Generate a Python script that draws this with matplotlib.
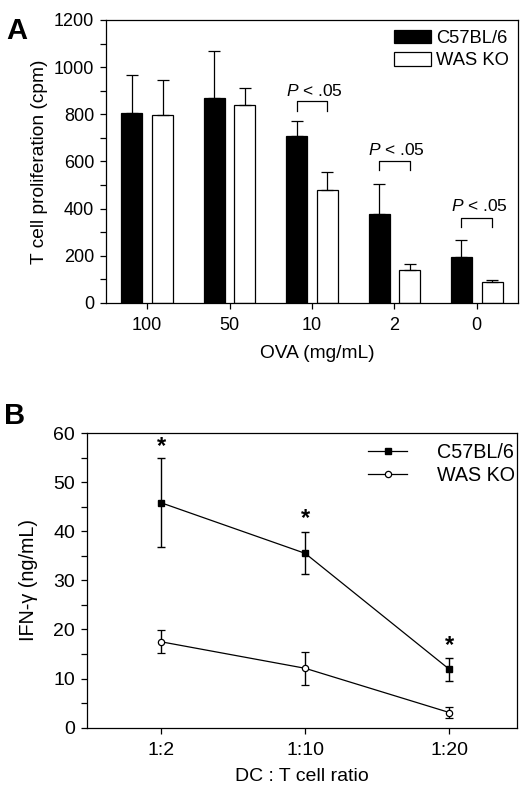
import matplotlib
matplotlib.use("Agg")
import matplotlib.pyplot as plt
import numpy as np
from matplotlib.lines import Line2D
from matplotlib.ticker import MultipleLocator

plt.rcParams["font.family"] = ["Liberation Sans", "DejaVu Sans"]
plt.rcParams["mathtext.fontset"] = "custom"
plt.rcParams["mathtext.rm"] = "Liberation Sans"
plt.rcParams["mathtext.it"] = "Liberation Sans:italic"

# ── panel A: T cell proliferation ─────────────────────────────────────────
ova_labels = ["100", "50", "10", "2", "0"]
c57_prolif = [807, 868, 707, 376, 193]
c57_prolif_err = [159, 202, 64, 127, 74]
ko_prolif = [798, 839, 479, 139, 91]
ko_prolif_err = [147, 73, 75, 26, 6]

sig_groups = [2, 3, 4]
sig_bracket_y = [857, 604, 359]
sig_leg_y = [814, 565, 321]
sig_text_y = [878, 629, 388]

# ── panel B: IFN-gamma ────────────────────────────────────────────────────
ratio_labels = ["1:2", "1:10", "1:20"]
c57_ifn = [45.8, 35.5, 11.9]
c57_ifn_err = [9.1, 4.3, 2.3]
ko_ifn = [17.5, 12.1, 3.1]
ko_ifn_err = [2.3, 3.3, 1.1]
star_y = [57.3, 42.6, 16.7]

fig = plt.figure(figsize=(5.2, 7.87), dpi=100)


def style_axes(ax, fs):
    for sp in ax.spines.values():
        sp.set_linewidth(0.9)
    ax.tick_params(which="both", direction="out", length=4.5, width=0.9,
                   labelsize=fs, pad=4)


# panel A
ax1 = fig.add_axes([0.2038, 0.615, 0.7923, 0.3596])
x = np.arange(len(ova_labels))
off, w = 0.186, 0.254
ax1.bar(x - off, c57_prolif, w, color="black", edgecolor="black",
        linewidth=0.9, label="C57BL/6", zorder=2)
ax1.bar(x + off, ko_prolif, w, color="white", edgecolor="black",
        linewidth=0.9, label="WAS KO", zorder=2)
ax1.errorbar(x - off, c57_prolif, yerr=[np.zeros(len(x)), c57_prolif_err],
             fmt="none", ecolor="black", elinewidth=0.9, capsize=4,
             capthick=0.9, zorder=3)
ax1.errorbar(x + off, ko_prolif, yerr=[np.zeros(len(x)), ko_prolif_err],
             fmt="none", ecolor="black", elinewidth=0.9, capsize=4,
             capthick=0.9, zorder=3)

for g, yb, yl, yt in zip(sig_groups, sig_bracket_y, sig_leg_y, sig_text_y):
    ax1.plot([g - off, g - off, g + off, g + off], [yl, yb, yb, yl],
             color="black", lw=0.9)
    ax1.text(g + 0.03, yt, r"$\mathit{P}$ < .05", ha="center",
             va="baseline", fontsize=12.5)

ax1.set_xlim(-0.5, 4.5)
ax1.set_ylim(0, 1200)
ax1.set_xticks(x)
ax1.set_xticklabels(ova_labels)
ax1.yaxis.set_major_locator(MultipleLocator(200))
ax1.yaxis.set_minor_locator(MultipleLocator(100))
style_axes(ax1, 13)
ax1.tick_params(axis="x", pad=5.5)
ax1.set_ylabel("T cell proliferation (cpm)", fontsize=13.8)
ax1.yaxis.set_label_coords(-0.141, 0.5)
ax1.set_xlabel("OVA (mg/mL)", fontsize=13.8)
ax1.xaxis.set_label_coords(0.512, -0.15)
ax1.legend(loc="upper right", bbox_to_anchor=(0.978, 0.966), frameon=False,
           fontsize=13.2, borderaxespad=0, borderpad=0, handlelength=2.0,
           handleheight=0.75, handletextpad=0.3, labelspacing=0.3)
fig.text(0.012, 0.978, "A", fontsize=21, fontweight="bold", va="top")

# panel B
ax2 = fig.add_axes([0.1673, 0.0753, 0.827, 0.3745])
xb = np.arange(len(ratio_labels))
ax2.errorbar(xb, c57_ifn, yerr=c57_ifn_err, color="black", lw=0.9,
             marker="s", ms=4.5, mfc="black", mec="black", capsize=3,
             elinewidth=1.0, capthick=1.0)
ax2.errorbar(xb, ko_ifn, yerr=ko_ifn_err, color="black", lw=0.9,
             marker="o", ms=4.5, mfc="white", mec="black", mew=0.9,
             capsize=3, elinewidth=1.0, capthick=1.0)
for xi, ys in zip(xb, star_y):
    ax2.text(xi, ys, "*", ha="center", va="center", fontsize=17,
             fontweight="bold")

ax2.set_xlim(-0.514, 2.47)
ax2.set_ylim(0, 60)
ax2.set_xticks(xb)
ax2.set_xticklabels(ratio_labels)
ax2.yaxis.set_major_locator(MultipleLocator(10))
ax2.yaxis.set_minor_locator(MultipleLocator(5))
style_axes(ax2, 14)
ax2.tick_params(axis="x", pad=5.5)
ax2.set_ylabel("IFN-γ (ng/mL)", fontsize=14.2)
ax2.yaxis.set_label_coords(-0.114, 0.5)
ax2.set_xlabel("DC : T cell ratio", fontsize=14)
ax2.xaxis.set_label_coords(0.50, -0.138)
handles = [
    Line2D([], [], color="black", lw=0.9, marker="s", ms=4.5,
           mfc="black", mec="black"),
    Line2D([], [], color="black", lw=0.9, marker="o", ms=4.5,
           mfc="white", mec="black", mew=0.9),
]
ax2.legend(handles, ["C57BL/6", "WAS KO"], loc="upper right",
           bbox_to_anchor=(0.995, 0.965), frameon=False, fontsize=14.2,
           borderaxespad=0, borderpad=0, handlelength=2.0,
           handletextpad=1.5, labelspacing=0.2)
fig.text(0.008, 0.489, "B", fontsize=21, fontweight="bold", va="top")

fig.savefig("out.png", dpi=100)
